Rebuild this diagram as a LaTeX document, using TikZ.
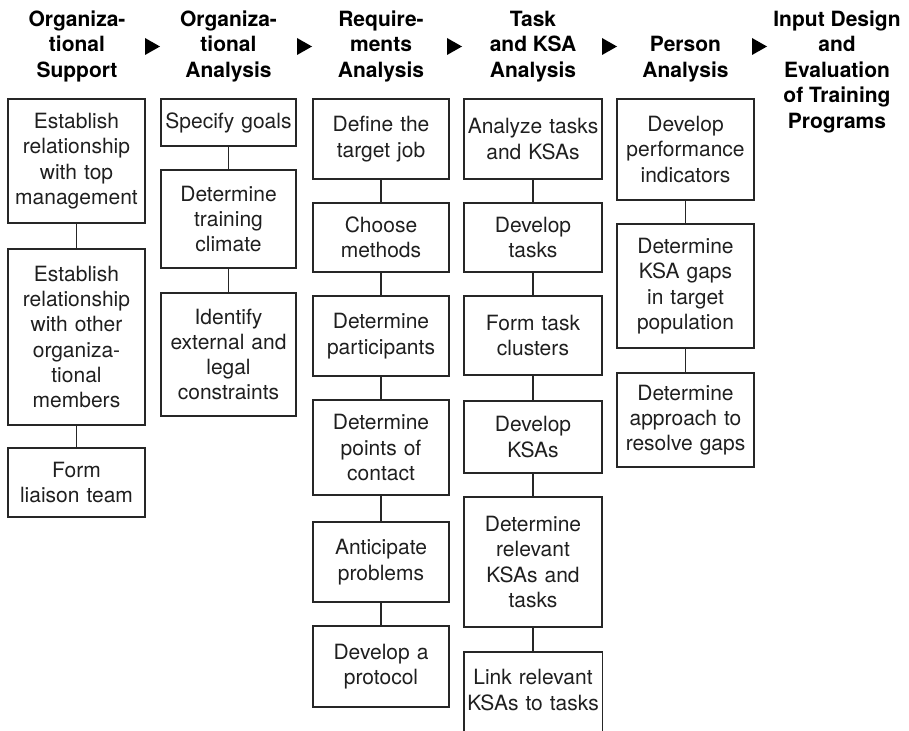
\documentclass[tikz,border=0pt]{standalone}
\usepackage{fontspec}
\setmainfont{TeX Gyre Heros}
\begin{document}
\begin{tikzpicture}[x=1pt,y=-1pt,
  boxline/.style={draw=black!85,line width=1.4pt},
  stepbox/.style={boxline,align=center,inner sep=0pt,text=black!88,
    font=\fontsize{21}{25.3}\selectfont},
  boxtext/.style={align=center,inner sep=0pt,text=black!88,
    font=\fontsize{21}{25.3}\selectfont},
  heading/.style={anchor=north,align=center,inner sep=0pt,
    font=\bfseries\fontsize{21}{25.5}\selectfont},
  colA/.style={minimum width=137pt,text width=131pt},
  colB/.style={minimum width=135pt,text width=129pt},
  colC/.style={minimum width=136pt,text width=130pt},
  colD/.style={minimum width=138pt,text width=132pt},
  colE/.style={minimum width=137pt,text width=131pt},
  conn/.style={draw=black!85,line width=1.4pt},
  tip/.style={fill=black}]
\useasboundingbox (0,0) rectangle (909,730);

% stage headings
\node[heading] (h1) at (77,10.5) {Organiza-\\tional\\Support};
\node[heading] (h2) at (228.5,10.5) {Organiza-\\tional\\Analysis};
\node[heading] (h3) at (381,10.5) {Require-\\ments\\Analysis};
\node[heading] (h4) at (533,10.5) {Task\\and KSA\\Analysis};
\node[heading] (h5) at (685.5,36) {Person\\Analysis};
\node[heading] (h6) at (837,10.5) {Input Design\\and\\Evaluation\\of Training\\Programs};

% arrowheads between stages
\foreach \n/\x in {t1/152.5,t2/304.5,t3/454.5,t4/609.5,t5/759.5}{
  \coordinate (\n) at (\x,46.5);
  \fill[tip] (\n) ++(-7.5,-8.5) -- ++(15,8.5) -- ++(-15,8.5) -- cycle;
}

% Organizational support
\node[stepbox,colA,minimum height=124pt] (a1) at (76.5,161)
  {Establish\\relationship\\with top\\management};
\node[stepbox,colA,minimum height=176pt] (a2) at (76.5,337)
  {Establish\\relationship\\with other\\organiza-\\tional\\members};
\node[stepbox,colA,minimum height=69pt] (a3) at (76.5,482.5)
  {Form\\liaison team};

% Organizational analysis
\node[stepbox,colB,minimum height=47pt] (b1) at (228.5,122.5)
  {Specify goals};
\node[stepbox,colB,minimum height=98pt] (b2) at (228.5,219)
  {Determine\\training\\climate};
\node[stepbox,colB,minimum height=123pt] (b3) at (228.5,354.5)
  {Identify\\external and\\legal\\constraints};

% Requirements analysis
\node[stepbox,colC,minimum height=80pt] (c1) at (381,139)
  {Define the\\target job};
\node[stepbox,colC,minimum height=69pt] (c2) at (381,237.5)
  {Choose\\methods};
\node[stepbox,colC,minimum height=80pt] (c3) at (381,336)
  {Determine\\participants};
\node[stepbox,colC,minimum height=95pt] (c4) at (381,447.5)
  {Determine\\points of\\contact};
\node[stepbox,colC,minimum height=80pt] (c5) at (381,562)
  {Anticipate\\problems};
\node[stepbox,colC,minimum height=81pt] (c6) at (381,666.5)
  {Develop a\\protocol};

% Task and KSA analysis
\node[stepbox,colD,minimum height=80pt] (d1) at (533,139)
  {Analyze tasks\\and KSAs};
\node[stepbox,colD,minimum height=69pt] (d2) at (533,237.5)
  {Develop\\tasks};
\node[stepbox,colD,minimum height=79pt] (d3) at (533,335.5)
  {Form task\\clusters};
\node[stepbox,colD,minimum height=72pt] (d4) at (533,437)
  {Develop\\KSAs};
\node[stepbox,colD,minimum height=130pt] (d5) at (533,562)
  {Determine\\relevant\\KSAs and\\tasks};
% last box runs past the lower edge: no bottom side
\node[boxtext,colD,minimum height=76pt] (d6) at (533,690)
  {Link relevant\\KSAs to tasks};
\draw[boxline] (d6.north west) ++(0,82) -- (d6.north west)
  -- (d6.north east) -- ++(0,82);

% Person analysis
\node[stepbox,colE,minimum height=101pt] (e1) at (685.5,149.5)
  {Develop\\performance\\indicators};
\node[stepbox,colE,minimum height=124pt] (e2) at (685.5,286)
  {Determine\\KSA gaps\\in target\\population};
\node[stepbox,colE,minimum height=94pt] (e3) at (685.5,420)
  {Determine\\approach to\\resolve gaps};

% links within each stage
\foreach \u/\v in {a1/a2,a2/a3,b1/b2,b2/b3,c1/c2,c2/c3,c3/c4,c4/c5,c5/c6,
                   d1/d2,d2/d3,d3/d4,d4/d5,d5/d6,e1/e2,e2/e3}
  \draw[conn] (\u.south) -- (\v.north);
\end{tikzpicture}
\end{document}
